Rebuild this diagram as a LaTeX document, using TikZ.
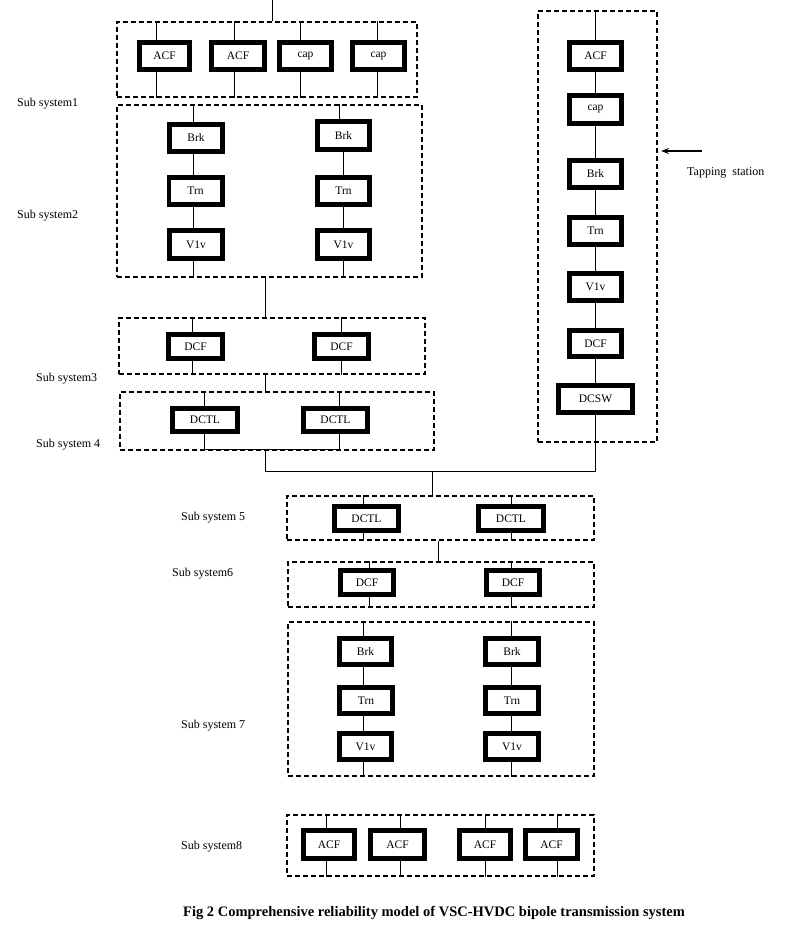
\documentclass[tikz,border=0pt]{standalone}
\usepackage{fontspec}
\setmainfont{Liberation Serif}
\usetikzlibrary{arrows.meta}
\begin{document}
\begin{tikzpicture}[x=1pt,y=-1pt,
  blk/.style={draw,line width=4.6pt,fill=white,inner sep=0pt,font=\fontsize{11.5}{13}\selectfont},
  ssbox/.style={draw,line width=1.6pt,dash pattern=on 5pt off 3pt,inner sep=0pt},
  wire/.style={line width=0.8pt},
  lbl/.style={anchor=west,inner sep=0pt,font=\fontsize{12}{14}\selectfont}]
\useasboundingbox (0,0) rectangle (807,933);
% ---------- dashed subsystem frames
\node[ssbox,minimum width=300pt,minimum height=75pt]  (ss1) at (267,59.5) {};
\node[ssbox,minimum width=305pt,minimum height=172pt] (ss2) at (269.5,191) {};
\node[ssbox,minimum width=306pt,minimum height=56pt]  (ss3) at (272,346) {};
\node[ssbox,minimum width=314pt,minimum height=58pt]  (ss4) at (277,421) {};
\node[ssbox,minimum width=119pt,minimum height=431pt] (rs)  at (597.5,226.5) {};
\node[ssbox,minimum width=307pt,minimum height=44pt]  (ss5) at (440.5,518) {};
\node[ssbox,minimum width=306pt,minimum height=45pt]  (ss6) at (441,584.5) {};
\node[ssbox,minimum width=306pt,minimum height=154pt] (ss7) at (441,699) {};
\node[ssbox,minimum width=307pt,minimum height=61pt]  (ss8) at (440.5,845.5) {};
% ---------- wire x positions
\coordinate (top) at (272,0);
\coordinate (xa) at (156,0);  \coordinate (xb) at (234,0);
\coordinate (xc) at (300,0);  \coordinate (xd) at (377,0);
\coordinate (xl) at (193,0);  \coordinate (xr) at (343,0); \coordinate (xr0) at (339,0);
\coordinate (xm) at (265,0);
\coordinate (xdl) at (192,0); \coordinate (xdr) at (341,0);
\coordinate (xtl) at (204,0); \coordinate (xtr) at (339,0);
\coordinate (xs) at (595,0);
\coordinate (xj) at (432,0);
\coordinate (xk) at (438,0);
\coordinate (x5l) at (363,0); \coordinate (x5r) at (511,0);
\coordinate (x6l) at (369,0); \coordinate (x6r) at (511,0);
\coordinate (x8a) at (326,0); \coordinate (x8b) at (400,0);
\coordinate (x8c) at (485,0); \coordinate (x8d) at (557,0);
\coordinate (bus) at (0,471);
% ---------- wires (drawn first, boxes cover them)
\draw[wire] (top) -- (ss1.north -| top);
\foreach \x in {xa,xb,xc,xd} \draw[wire] (ss1.north -| \x) -- (ss1.south -| \x);
\draw[wire] (ss2.north -| xl) -- (ss2.south -| xl);
\draw[wire] (ss2.north -| xr0) -- (0,130 -| xr0);
\draw[wire] (0,130 -| xr) -- (ss2.south -| xr);
\draw[wire] (ss2.south -| xm) -- (ss3.north -| xm);
\draw[wire] (ss3.north -| xdl) -- (ss3.south -| xdl);
\draw[wire] (ss3.north -| xdr) -- (ss3.south -| xdr);
\draw[wire] (ss3.south -| xm) -- (ss4.north -| xm);
\draw[wire] (ss4.north -| xtl) -- (0,449 -| xtl) -- (0,449 -| xtr) -- (ss4.north -| xtr);
\draw[wire] (0,449 -| xm) -- (bus -| xm) -- (bus -| xs) -- (rs.north -| xs);
\draw[wire] (bus -| xj) -- (ss5.north -| xj);
\draw[wire] (ss5.north -| x5l) -- (ss5.south -| x5l);
\draw[wire] (ss5.north -| x5r) -- (ss5.south -| x5r);
\draw[wire] (ss5.south -| xk) -- (ss6.north -| xk);
\draw[wire] (ss6.north -| x6l) -- (ss6.south -| x6l);
\draw[wire] (ss6.north -| x6r) -- (ss6.south -| x6r);
\draw[wire] (ss7.north -| x5l) -- (ss7.south -| x5l);
\draw[wire] (ss7.north -| x5r) -- (ss7.south -| x5r);
\foreach \x in {x8a,x8b,x8c,x8d} \draw[wire] (ss8.north -| \x) -- (ss8.south -| \x);
% ---------- sub system 1
\node[blk,minimum width=50.4pt,minimum height=27.4pt] (a1) at (164.5,56) {ACF};
\node[blk,minimum width=53.4pt,minimum height=27.4pt] (a2) at (238,56) {ACF};
\node[blk,minimum width=52.4pt,minimum height=27.4pt] (c1) at (305.5,56) {cap};
\node[blk,minimum width=52.4pt,minimum height=27.4pt] (c2) at (378.5,56) {cap};
% ---------- sub system 2
\node[blk,minimum width=53.4pt,minimum height=27.4pt] (b1) at (196,138) {Brk};
\node[blk,minimum width=53.4pt,minimum height=27.4pt] (t1) at (195.5,191) {Trn};
\node[blk,minimum width=53.4pt,minimum height=28.4pt] (v1) at (196,244.5) {V1v};
\node[blk,minimum width=52.4pt,minimum height=28.4pt] (b2) at (343.5,135.5) {Brk};
\node[blk,minimum width=52.4pt,minimum height=27.4pt] (t2) at (343.5,191) {Trn};
\node[blk,minimum width=52.4pt,minimum height=28.4pt] (v2) at (343.5,244.5) {V1v};
% ---------- sub system 3
\node[blk,minimum width=54.4pt,minimum height=24.4pt] (d1) at (195.5,346.5) {DCF};
\node[blk,minimum width=54.4pt,minimum height=24.4pt] (d2) at (341.5,346.5) {DCF};
% ---------- sub system 4
\node[blk,minimum width=65.4pt,minimum height=23.4pt] (l1) at (205,420) {DCTL};
\node[blk,minimum width=64.4pt,minimum height=23.4pt] (l2) at (335.5,420) {DCTL};
% ---------- tapping station
\node[blk,minimum width=52.4pt,minimum height=27.4pt] (r1) at (595.5,56) {ACF};
\node[blk,minimum width=52.4pt,minimum height=28.4pt] (r2) at (595.5,109.5) {cap};
\node[blk,minimum width=52.4pt,minimum height=27.4pt] (r3) at (595.5,174) {Brk};
\node[blk,minimum width=52.4pt,minimum height=27.4pt] (r4) at (595.5,231) {Trn};
\node[blk,minimum width=52.4pt,minimum height=27.4pt] (r5) at (595.5,287) {V1v};
\node[blk,minimum width=52.4pt,minimum height=26.4pt] (r6) at (595.5,343.5) {DCF};
\node[blk,minimum width=74.4pt,minimum height=27.4pt] (r7) at (595.5,399) {DCSW};
\foreach \u/\v in {r1/r2,r2/r3,r3/r4,r4/r5,r5/r6,r6/r7} \draw[wire] (\u) -- (\v);
\draw[wire] (r7) -- (rs.south -| r7);
\coordinate (tapS) at (702,151);
\coordinate (tapE) at (661,151);
\draw[line width=1.2pt,-{Stealth[length=8pt,width=6pt]}] (tapS) -- (tapE);
\node[lbl] (tap) at (687,173) {Tapping\ \ station};
% ---------- sub system 5
\node[blk,minimum width=64.4pt,minimum height=24.4pt] (m1) at (366.5,518.5) {DCTL};
\node[blk,minimum width=65.4pt,minimum height=24.4pt] (m2) at (511,518.5) {DCTL};
% ---------- sub system 6
\node[blk,minimum width=53.4pt,minimum height=24.4pt] (f1) at (367,582.5) {DCF};
\node[blk,minimum width=53.4pt,minimum height=24.4pt] (f2) at (513,582.5) {DCF};
% ---------- sub system 7
\node[blk,minimum width=52.4pt,minimum height=26.4pt] (p1) at (365.5,651.5) {Brk};
\node[blk,minimum width=53.4pt,minimum height=26.4pt] (p2) at (366,700.5) {Trn};
\node[blk,minimum width=52.4pt,minimum height=26.4pt] (p3) at (365.5,746.5) {V1v};
\node[blk,minimum width=53.4pt,minimum height=26.4pt] (q1) at (512,651.5) {Brk};
\node[blk,minimum width=53.4pt,minimum height=26.4pt] (q2) at (512,700.5) {Trn};
\node[blk,minimum width=53.4pt,minimum height=26.4pt] (q3) at (512,746.5) {V1v};
% ---------- sub system 8
\node[blk,minimum width=51.4pt,minimum height=28.4pt] (e1) at (329,844.5) {ACF};
\node[blk,minimum width=54.4pt,minimum height=28.4pt] (e2) at (397.5,844.5) {ACF};
\node[blk,minimum width=51.4pt,minimum height=28.4pt] (e3) at (485,844.5) {ACF};
\node[blk,minimum width=52.4pt,minimum height=28.4pt] (e4) at (551.5,844.5) {ACF};
% ---------- labels
\node[lbl] (s1) at (17,104) {Sub system1};
\node[lbl] (s2) at (17,216) {Sub system2};
\node[lbl] (s3) at (36,379) {Sub system3};
\node[lbl] (s4) at (36,445) {Sub system 4};
\node[lbl] (s5) at (181,518) {Sub system 5};
\node[lbl] (s6) at (172,574) {Sub system6};
\node[lbl] (s7) at (181,726) {Sub system 7};
\node[lbl] (s8) at (181,847) {Sub system8};
\node[anchor=west,inner sep=0pt,font=\fontsize{14.5}{17}\selectfont\bfseries] (cap) at (183,913)
  {Fig 2 Comprehensive reliability model of VSC-HVDC bipole transmission system};
\end{tikzpicture}
\end{document}
